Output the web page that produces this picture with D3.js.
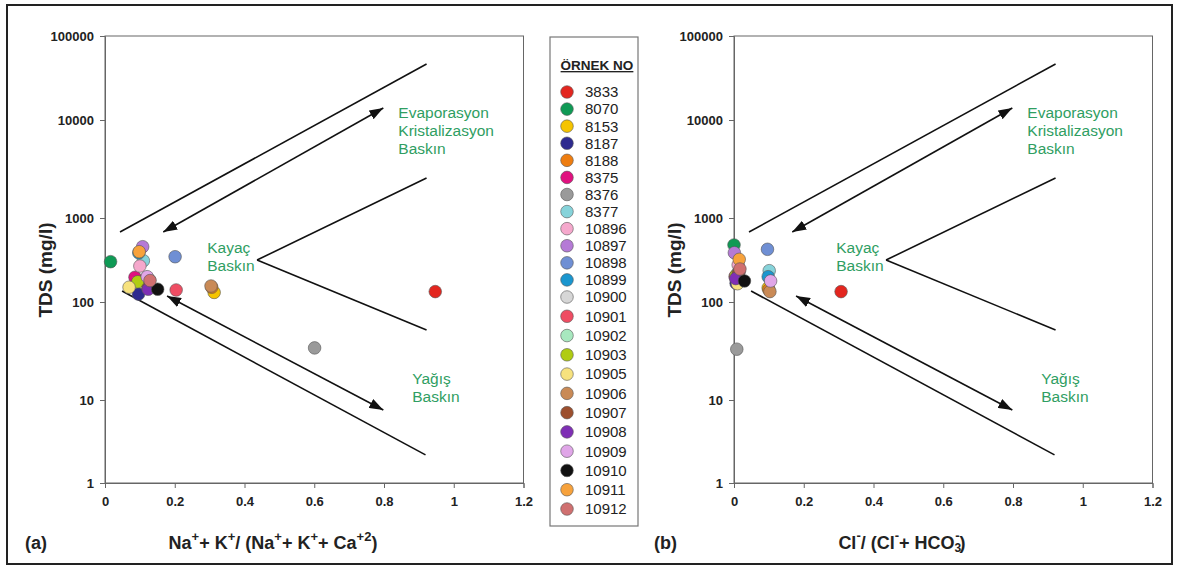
<!DOCTYPE html>
<html>
<head>
<meta charset="utf-8">
<script src="https://cdn.jsdelivr.net/npm/d3@7"></script>
<style>
  body { margin: 0; background: #fff; }
  svg { font-family: "Liberation Sans", Arial, sans-serif; }
</style>
</head>
<body>
<script>
var samples = ["3833", "8070", "8153", "8187", "8188", "8375", "8376", "8377",
  "10896", "10897", "10898", "10899", "10900", "10901", "10902", "10903",
  "10905", "10906", "10907", "10908", "10909", "10910", "10911", "10912"];

var colors = ["#e3261f", "#0f9a55", "#f5c400", "#2e2a8f", "#ee7d10", "#e0117f", "#9a9a9a", "#86d3da",
  "#f5a8cc", "#b57ad6", "#6f8fd4", "#1a96cf", "#d6d6d6", "#ef4d63", "#a8e8bf", "#b0cc12",
  "#f7e27e", "#c98a56", "#9c4f2e", "#7f2fb5", "#e0a6e8", "#111111", "#f7a23c", "#d07070"];

// (a) Na+K / (Na+K+Ca)
var ratioA = [0.947, 0.016, 0.313, 0.096, 0.306, 0.086, 0.601, 0.110,
  0.100, 0.108, 0.201, 0.097, 0.120, 0.204, 0.128, 0.094,
  0.069, 0.304, 0.123, 0.124, 0.121, 0.151, 0.098, 0.129];
var tdsA = [133, 302, 130, 124, 150, 197, 34, 310,
  268, 455, 346, 385, 196, 139, 183, 174,
  150, 155, 146, 142, 200, 142, 397, 180];

// (b) Cl / (Cl+HCO3)
var ratioB = [0.307, 0.000, 0.098, 0.006, 0.100, 0.003, 0.008, 0.101,
  0.012, 0.001, 0.096, 0.098, 0.010, 0.015, 0.010, 0.005,
  0.010, 0.103, 0.012, 0.005, 0.105, 0.030, 0.015, 0.017];
var tdsB = [133, 477, 147, 167, 140, 200, 33, 236,
  276, 386, 424, 200, 220, 230, 210, 205,
  165, 133, 215, 190, 178, 178, 322, 247];

var xTicks = [0, 0.2, 0.4, 0.6, 0.8, 1, 1.2];
var yTicks = [1, 10, 100, 1000, 10000, 100000];

// Gibbs boundaries and arrows (data units)
var bounds = [
  [[0.043, 681], [0.922, 46400]],
  [[0.436, 316], [0.922, 2560]],
  [[0.436, 316], [0.922, 51.8]],
  [[0.049, 135], [0.919, 2.18]]
];
var arrows = [
  [[0.167, 681], [0.798, 13900]],
  [[0.178, 118], [0.798, 7.58]]
];
var zoneLabels = [
  { x: 0.841, y: 10560, lines: ["Evaporasyon", "Kristalizasyon", "Baskın"] },
  { x: 0.293, y: 383, lines: ["Kayaç", "Baskın"] },
  { x: 0.881, y: 14.6, lines: ["Yağış", "Baskın"] }
];

var svg = d3.select("body").append("svg")
    .attr("width", 1180)
    .attr("height", 570);

svg.append("defs").append("marker")
    .attr("id", "arr")
    .attr("viewBox", "0 0 10 10")
    .attr("refX", 10).attr("refY", 5)
    .attr("markerUnits", "userSpaceOnUse")
    .attr("markerWidth", 14).attr("markerHeight", 10)
    .attr("preserveAspectRatio", "none")
    .attr("orient", "auto-start-reverse")
  .append("path")
    .attr("d", "M0,0 L10,5 L0,10 z")
    .attr("fill", "#111");

// outer frame
svg.append("rect")
    .attr("x", 7).attr("y", 5)
    .attr("width", 1165).attr("height", 559)
    .attr("fill", "none")
    .attr("stroke", "#222")
    .attr("stroke-width", 2);

function drawPanel(left, xs, ys, tag, titleParts) {
  var x = d3.scaleLinear().domain([0, 1.2]).range([left, left + 418.5]);
  var y = d3.scaleLog()
      .domain(yTicks)
      .range([483, 400, 302, 218, 120, 36]);

  var g = svg.append("g");

  g.append("rect")
      .attr("x", x(0)).attr("y", y(100000))
      .attr("width", x(1.2) - x(0))
      .attr("height", y(1) - y(100000))
      .attr("fill", "none")
      .attr("stroke", "#666")
      .attr("stroke-width", 1);

  var ax = g.append("g")
      .attr("transform", "translate(0," + y(1) + ")")
      .call(d3.axisBottom(x).tickValues(xTicks).tickSize(5).tickPadding(9)
        .tickFormat(function (d) { return d; }));
  var ay = g.append("g")
      .attr("transform", "translate(" + x(0) + ",0)")
      .call(d3.axisLeft(y).tickValues(yTicks).tickSize(5).tickPadding(6)
        .tickFormat(d3.format("d")));

  [ax, ay].forEach(function (a) {
    a.select(".domain").attr("stroke", "#666");
    a.selectAll(".tick line").attr("stroke", "#666");
    a.selectAll(".tick text")
        .attr("font-size", 13)
        .attr("font-weight", "bold")
        .attr("fill", "#222")
        .attr("font-family", "Liberation Sans, Arial, sans-serif");
  });

  g.selectAll(".bound")
      .data(bounds)
      .enter()
      .append("line")
      .attr("x1", function (d) { return x(d[0][0]); })
      .attr("y1", function (d) { return y(d[0][1]); })
      .attr("x2", function (d) { return x(d[1][0]); })
      .attr("y2", function (d) { return y(d[1][1]); })
      .attr("stroke", "#111")
      .attr("stroke-width", 1.6);

  g.selectAll(".arrow")
      .data(arrows)
      .enter()
      .append("line")
      .attr("x1", function (d) { return x(d[0][0]); })
      .attr("y1", function (d) { return y(d[0][1]); })
      .attr("x2", function (d) { return x(d[1][0]); })
      .attr("y2", function (d) { return y(d[1][1]); })
      .attr("stroke", "#111")
      .attr("stroke-width", 1.6)
      .attr("marker-start", "url(#arr)")
      .attr("marker-end", "url(#arr)");

  zoneLabels.forEach(function (z) {
    var t = g.append("text")
        .attr("x", x(z.x))
        .attr("y", y(z.y))
        .attr("font-size", 15.5)
        .attr("fill", "#2f9e62");
    z.lines.forEach(function (s, i) {
      t.append("tspan")
          .attr("x", x(z.x))
          .attr("dy", i === 0 ? 0 : 18)
          .text(s);
    });
  });

  g.selectAll(".pt")
      .data(samples)
      .enter()
      .append("circle")
      .attr("cx", function (d, i) { return x(xs[i]); })
      .attr("cy", function (d, i) { return y(ys[i]); })
      .attr("r", 6.3)
      .attr("fill", function (d, i) { return colors[i]; })
      .attr("stroke", "#555")
      .attr("stroke-width", 0.6);

  g.append("text")
      .attr("transform", "translate(" + (left - 53) + ",270) rotate(-90)")
      .attr("text-anchor", "middle")
      .attr("font-size", 19)
      .attr("font-weight", "bold")
      .attr("fill", "#222")
      .text("TDS (mg/l)");

  g.append("text")
      .attr("x", left - 80)
      .attr("y", 549)
      .attr("font-size", 18)
      .attr("font-weight", "bold")
      .attr("fill", "#222")
      .text(tag);

  var title = g.append("text")
      .attr("x", left + 168)
      .attr("y", 549)
      .attr("text-anchor", "middle")
      .attr("font-size", 18)
      .attr("font-weight", "bold")
      .attr("fill", "#222");
  titleParts.forEach(function (p) {
    var ts = title.append("tspan").text(p.t);
    if (p.size) ts.attr("font-size", p.size);
    if (p.dy) ts.attr("dy", p.dy);
    if (p.dx) ts.attr("dx", p.dx);
  });
}

drawPanel(105, ratioA, tdsA, "(a)", [
  { t: "Na" }, { t: "+", size: 13, dy: -8 }, { t: "+ K", dy: 8 },
  { t: "+", size: 13, dy: -8 }, { t: "/ (Na", dy: 8 },
  { t: "+", size: 13, dy: -8 }, { t: "+ K", dy: 8 },
  { t: "+", size: 13, dy: -8 }, { t: "+ Ca", dy: 8 },
  { t: "+2", size: 13, dy: -8 }, { t: ")", dy: 8 }
]);

drawPanel(734, ratioB, tdsB, "(b)", [
  { t: "Cl" }, { t: "-", size: 13, dy: -9 }, { t: "/ (Cl", dy: 9 },
  { t: "-", size: 13, dy: -9 }, { t: "+ HCO", dy: 9 },
  { t: "3", size: 12, dy: 3 }, { t: "-", size: 13, dx: -6, dy: -12 },
  { t: ")", dy: 9 }
]);

// legend
var ly = d3.scaleLinear().domain([0, 12, 23]).range([92, 297, 509]);
var legend = svg.append("g");

legend.append("rect")
    .attr("x", 550).attr("y", 37)
    .attr("width", 88).attr("height", 489)
    .attr("fill", "#fff")
    .attr("stroke", "#777")
    .attr("stroke-width", 1.2);

legend.append("text")
    .attr("x", 597).attr("y", 70)
    .attr("text-anchor", "middle")
    .attr("font-size", 13.5)
    .attr("font-weight", "bold")
    .attr("fill", "#222")
    .attr("text-decoration", "underline")
    .text("ÖRNEK NO");

var items = legend.selectAll(".item")
    .data(samples)
    .enter()
    .append("g")
    .attr("transform", function (d, i) { return "translate(567," + ly(i) + ")"; });

items.append("circle")
    .attr("r", 6.3)
    .attr("fill", function (d, i) { return colors[i]; })
    .attr("stroke", "#555")
    .attr("stroke-width", 0.6);

items.append("text")
    .attr("x", 18)
    .attr("dy", "0.36em")
    .attr("font-size", 15)
    .attr("fill", "#222")
    .text(function (d) { return d; });
</script>
</body>
</html>
